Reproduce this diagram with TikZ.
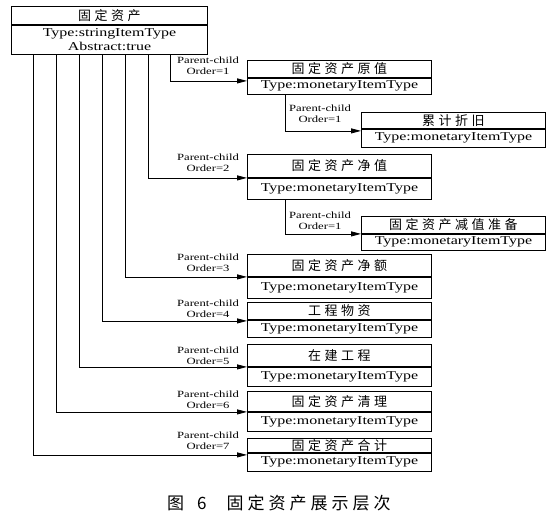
\documentclass[tikz,border=0pt]{standalone}
\usepackage{fontspec}
\setmainfont[FakeStretch=1.33]{Liberation Serif}
\newfontfamily\cjk{Noto Sans CJK SC}
\usetikzlibrary{arrows.meta}
\newlength\lspgap
\setlength\lspgap{3.5pt}
\def\lsp#1{\lspa#1\relax}
\def\lspa#1{#1\lspi}
\def\lspi#1{\ifx#1\relax\else\hspace{\lspgap}#1\expandafter\lspi\fi}
\newcommand\cnt[1]{{\cjk\fontsize{13}{14}\selectfont\lsp{#1}}}
\tikzset{
  cell/.style={draw, line width=0.9pt, minimum width=184pt, inner sep=0pt, anchor=north west, font=\fontsize{12}{14}\selectfont},
  lbl/.style={font=\fontsize{9.5}{11}\selectfont, align=center, inner sep=0pt},
  arr/.style={line width=0.8pt, -{Triangle[length=10pt,width=5pt]}}
}
\begin{document}
\begin{tikzpicture}[x=1pt,y=-1pt]
\useasboundingbox (0,0) rectangle (559,522);
% top box
\node[cell, minimum width=196pt, minimum height=18pt] (topt) at (11,6) {\cnt{固定资产}};
\node[cell, minimum width=196pt, minimum height=29pt, align=center, font=\fontsize{12}{14}\selectfont] (topb) at (topt.south west) {Type:stringItemType\\Abstract:true};
% children
\node[cell, minimum height=17pt] (b1t) at (247,60) {\cnt{固定资产原值}};
\node[cell, minimum height=16pt] (b1b) at (b1t.south west) {Type:monetaryItemType};
\node[cell, minimum height=16pt] (b11t) at (361,112) {\cnt{累计折旧}};
\node[cell, minimum height=18pt] (b11b) at (b11t.south west) {Type:monetaryItemType};
\node[cell, minimum height=23pt] (b2t) at (247,154) {\cnt{固定资产净值}};
\node[cell, minimum height=21pt] (b2b) at (b2t.south west) {Type:monetaryItemType};
\node[cell, minimum height=17pt] (b21t) at (361,216) {\cnt{固定资产减值准备}};
\node[cell, minimum height=16pt] (b21b) at (b21t.south west) {Type:monetaryItemType};
\node[cell, minimum height=22pt] (b3t) at (247,254) {\cnt{固定资产净额}};
\node[cell, minimum height=21pt] (b3b) at (b3t.south west) {Type:monetaryItemType};
\node[cell, minimum height=17pt] (b4t) at (247,302) {\cnt{工程物资}};
\node[cell, minimum height=17pt] (b4b) at (b4t.south west) {Type:monetaryItemType};
\node[cell, minimum height=22pt] (b5t) at (247,344) {\cnt{在建工程}};
\node[cell, minimum height=19pt] (b5b) at (b5t.south west) {Type:monetaryItemType};
\node[cell, minimum height=20pt] (b6t) at (247,391) {\cnt{固定资产清理}};
\node[cell, minimum height=19pt] (b6b) at (b6t.south west) {Type:monetaryItemType};
\node[cell, minimum height=14pt] (b7t) at (247,438) {\cnt{固定资产合计}};
\node[cell, minimum height=18pt] (b7b) at (b7t.south west) {Type:monetaryItemType};
% connector x positions
\coordinate (c1) at (170,0);
\coordinate (c2) at (148,0);
\coordinate (c3) at (125,0);
\coordinate (c4) at (102,0);
\coordinate (c5) at (79,0);
\coordinate (c6) at (56,0);
\coordinate (c7) at (33,0);
\coordinate (d1) at (285,0);
% connectors
\draw[arr] (topb.south -| c1) |- ([yshift=-3pt]b1t.south west);
\draw[arr] (topb.south -| c2) |- (b2t.south west);
\draw[arr] (topb.south -| c3) |- (b3t.south west);
\draw[arr] (topb.south -| c4) |- ([yshift=-1pt]b4t.south west);
\draw[arr] (topb.south -| c5) |- (b5t.south west);
\draw[arr] (topb.south -| c6) |- (b6t.south west);
\draw[arr] (topb.south -| c7) |- ([yshift=-2pt]b7t.south west);
\draw[arr] (b1b.south -| d1) |- ([yshift=-2pt]b11t.south west);
\draw[arr] (b2b.south -| d1) |- (b21t.south west);
% labels
\node[lbl] (l1) at (208,66) {Parent-child\\Order=1};
\node[lbl] (l11) at (320,114) {Parent-child\\Order=1};
\node[lbl] (l2) at (208,163) {Parent-child\\Order=2};
\node[lbl] (l21) at (320,221) {Parent-child\\Order=1};
\node[lbl] (l3) at (208,263) {Parent-child\\Order=3};
\node[lbl] (l4) at (208,309) {Parent-child\\Order=4};
\node[lbl] (l5) at (208,356) {Parent-child\\Order=5};
\node[lbl] (l6) at (208,400) {Parent-child\\Order=6};
\node[lbl] (l7) at (208,441) {Parent-child\\Order=7};
% caption
\node[inner sep=0pt, anchor=west, font=\cjk\fontsize{17}{19}\selectfont] (cap) at (167,503) {图\hspace{13pt}6\hspace{20pt}\setlength\lspgap{4pt}\lsp{固定资产展示层次}};
\end{tikzpicture}
\end{document}
